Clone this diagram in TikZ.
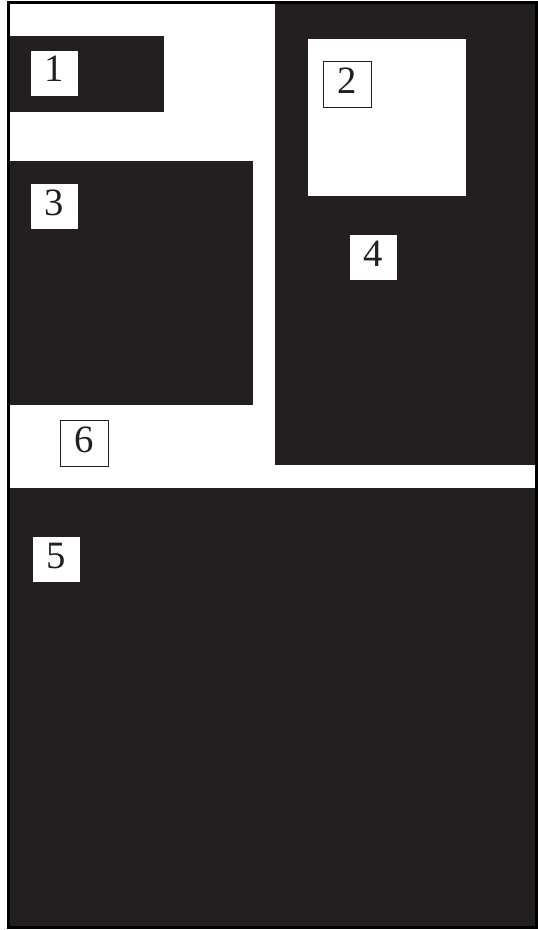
\documentclass[tikz,border=0pt]{standalone}
\usepackage{fontspec}
\setmainfont{Liberation Serif}
\usepackage{tikz}
\usepackage{xcolor}
\usetikzlibrary{positioning}
\definecolor{cInk}{RGB}{35,31,32}
\tikzset{
	block/.style={fill=cInk},
	hole/.style={fill=white},
	frame/.style={draw=black, line width=0.09cm},
	lbl/.style={rectangle, draw=cInk, line width=0.6pt, fill=white, inner sep=0pt, minimum width=1.44cm, minimum height=1.38cm, text height=0.8cm, text depth=0.26cm, font=\fontsize{33}{38}\selectfont, text=cInk},
}
\begin{document}
\begin{tikzpicture}[x=0.03cm, y=-0.03cm]
	\useasboundingbox (0,0) rectangle (538,930);
	% dark areas
	\fill[block] (10,36) rectangle (164,112);
	\fill[block] (10,161) rectangle (253,405);
	\fill[block] (275,4) rectangle (536,465);
	\fill[hole]  (308,39) rectangle (466,196);
	\fill[block] (10,488) rectangle (536,927);
	% outer frame
	\draw[frame] (8.5,3) rectangle (536.5,927.5);
	% labels
	\node[lbl] (n1) at (54,73) {1};
	\node[lbl] (n2) at (347.5,84.5) {2};
	\node[lbl] (n3) at (54,206) {3};
	\node[lbl] (n4) at (373.5,257.5) {4};
	\node[lbl] (n5) at (56,559) {5};
	\node[lbl] (n6) at (84.5,443) {6};
\end{tikzpicture}
\end{document}
